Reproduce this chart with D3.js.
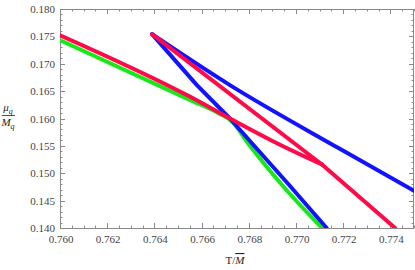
<!DOCTYPE html>
<html>
<head>
<meta charset="utf-8">
<script src="https://cdn.jsdelivr.net/npm/d3@7"></script>
<style>
  body { margin: 0; background: #fff; }
  text { font-family: "Liberation Serif", "DejaVu Serif", serif; }
</style>
</head>
<body>
<div id="chart"></div>
<script>
const width = 415;
const height = 270;

// data: [T/M, mu_q/M_q]
const greenPts = [
  [0.7600, 0.1743], [0.7655, 0.1634], [0.7667, 0.1610], [0.7673, 0.1594],
  [0.7680, 0.1553], [0.7694, 0.1479], [0.7711, 0.1400]
];
const redLowerPts = [
  [0.7600, 0.1752], [0.7655, 0.1640], [0.7672, 0.1600], [0.7690, 0.1559],
  [0.7711, 0.1516]
];
const redUpperPts = [[0.7639, 0.1754], [0.7711, 0.1516]];
const redTailPts = [[0.7711, 0.1516], [0.7742, 0.1400]];
const blueSteepPts = [
  [0.7639, 0.1754], [0.7658, 0.1661], [0.7672, 0.1600], [0.7697, 0.1479],
  [0.7713, 0.1400]
];
const blueUpperPts = [
  [0.7639, 0.1754], [0.7672, 0.1661], [0.7718, 0.1546], [0.7750, 0.1468]
];

const xTicks = [0.760, 0.762, 0.764, 0.766, 0.768, 0.770, 0.772, 0.774];
const yTicks = [0.140, 0.145, 0.150, 0.155, 0.160, 0.165, 0.170, 0.175, 0.180];

const margin = { left: 60, right: 1, top: 9, bottom: 42 };

const x = d3.scaleLinear().domain([0.760, 0.775]).range([margin.left, width - margin.right]);
const y = d3.scaleLinear().domain([0.140, 0.180]).range([height - margin.bottom, margin.top]);

const svg = d3.select("#chart")
  .append("svg")
  .attr("width", width)
  .attr("height", height);

svg.append("defs").append("clipPath")
  .attr("id", "plot")
  .append("rect")
  .attr("x", margin.left)
  .attr("y", margin.top)
  .attr("width", width - margin.right - margin.left)
  .attr("height", height - margin.bottom - margin.top);

const axisColor = "#8a8a8a";
const x0 = margin.left, x1 = width - margin.right;
const y0 = height - margin.bottom, y1 = margin.top;

// frame
svg.append("rect")
  .attr("x", x0 + 0.5)
  .attr("y", y1 + 0.5)
  .attr("width", x1 - x0 - 1)
  .attr("height", y0 - y1)
  .attr("fill", "none")
  .attr("stroke", axisColor)
  .attr("stroke-width", 1);

// minor ticks
const xMinor = d3.range(0.7600, 0.77501, 0.0005);
const yMinor = d3.range(0.140, 0.18001, 0.001);

const ticks = svg.append("g").attr("stroke", axisColor).attr("stroke-width", 1);

xMinor.forEach(v => {
  const major = xTicks.some(t => Math.abs(t - v) < 1e-6);
  const len = major ? 5 : 2.5;
  const px = Math.round(x(v)) + 0.5;
  ticks.append("line").attr("x1", px).attr("x2", px).attr("y1", y0).attr("y2", y0 - len);
  ticks.append("line").attr("x1", px).attr("x2", px).attr("y1", y1).attr("y2", y1 + len);
});
yMinor.forEach(v => {
  const major = yTicks.some(t => Math.abs(t - v) < 1e-6);
  const len = major ? 5 : 2.5;
  const py = Math.round(y(v)) + 0.5;
  ticks.append("line").attr("x1", x0).attr("x2", x0 + len).attr("y1", py).attr("y2", py);
  ticks.append("line").attr("x1", x1).attr("x2", x1 - len).attr("y1", py).attr("y2", py);
});

// tick labels
svg.append("g").selectAll("text")
  .data(xTicks)
  .join("text")
  .attr("x", d => x(d) + 1)
  .attr("y", y0 + 15)
  .attr("text-anchor", "middle")
  .attr("fill", "#444")
  .style("font-size", "11px")
  .text(d => d3.format(".3f")(d));

svg.append("g").selectAll("text")
  .data(yTicks)
  .join("text")
  .attr("x", x0 - 5)
  .attr("y", d => y(d) + 4)
  .attr("text-anchor", "end")
  .attr("fill", "#444")
  .style("font-size", "11px")
  .text(d => d3.format(".3f")(d));

// curves
const smooth = d3.line()
  .x(d => x(d[0]))
  .y(d => y(d[1]))
  .curve(d3.curveMonotoneX);
const straight = d3.line()
  .x(d => x(d[0]))
  .y(d => y(d[1]));

const curves = [
  { pts: greenPts, color: "#17e817", gen: smooth },
  { pts: blueSteepPts, color: "#1212ff", gen: straight },
  { pts: blueUpperPts, color: "#1212ff", gen: smooth },
  { pts: redLowerPts, color: "#ff0a48", gen: smooth },
  { pts: redUpperPts, color: "#ff0a48", gen: straight },
  { pts: redTailPts, color: "#ff0a48", gen: straight }
];

svg.append("g")
  .attr("clip-path", "url(#plot)")
  .selectAll("path")
  .data(curves)
  .join("path")
  .attr("d", d => d.gen(d.pts))
  .attr("fill", "none")
  .attr("stroke", d => d.color)
  .attr("stroke-width", 4)
  .attr("stroke-linejoin", "round")
  .attr("stroke-linecap", "round");

// axis labels
const yl = svg.append("g").attr("fill", "#222");
const mu = yl.append("text").attr("x", 8).attr("y", 111).attr("text-anchor", "middle").style("font-size", "11px");
mu.append("tspan").style("font-style", "italic").text("μ");
mu.append("tspan").attr("dy", 3).style("font-size", "8px").style("font-style", "italic").text("q");
yl.append("line")
  .attr("x1", 2).attr("x2", 15)
  .attr("y1", 115.5).attr("y2", 115.5)
  .attr("stroke", "#222").attr("stroke-width", 0.8);
const mq = yl.append("text").attr("x", 8).attr("y", 126).attr("text-anchor", "middle").style("font-size", "11px");
mq.append("tspan").style("font-style", "italic").text("M");
mq.append("tspan").attr("dy", 3).style("font-size", "8px").style("font-style", "italic").text("q");

const xl = svg.append("text")
  .attr("x", 235)
  .attr("y", 264)
  .attr("text-anchor", "middle")
  .attr("fill", "#222")
  .style("font-size", "11px");
xl.append("tspan").text("T/");
xl.append("tspan").style("font-style", "italic").style("text-decoration", "overline").text("M");
</script>
</body>
</html>
